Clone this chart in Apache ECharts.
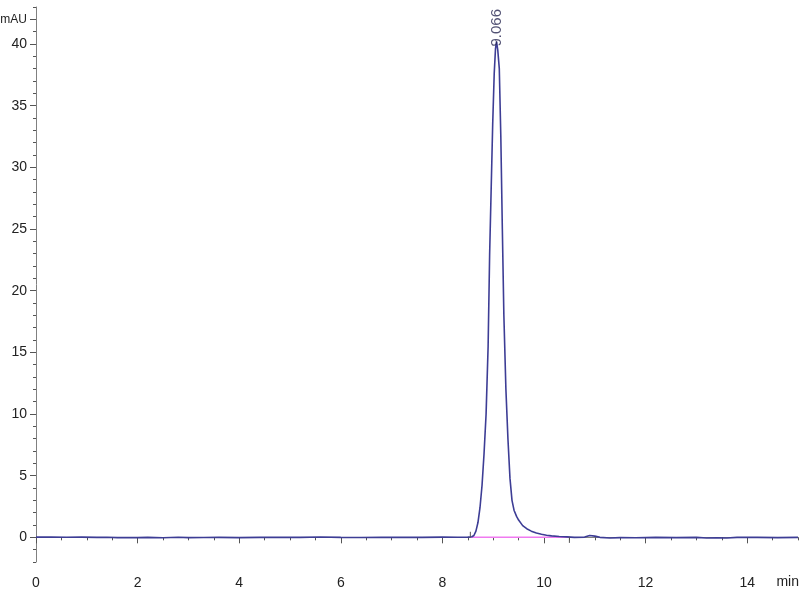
<!DOCTYPE html>
<html>
<head>
<meta charset="utf-8">
<script src="https://cdn.jsdelivr.net/npm/echarts@6/dist/echarts.min.js"></script>
<style>html,body{margin:0;padding:0;background:#fff}#c{width:800px;height:600px}</style>
</head>
<body>
<div id="c"></div>
<script>
// Chromatogram signal (time in min, absorbance in mAU)
var times = [0,0.3,0.6,0.9,1.2,1.4,1.6,1.8,2.0,2.2,2.5,2.8,3.0,3.3,3.6,4.0,4.4,4.8,5.2,5.6,6.0,6.4,6.8,7.2,7.6,8.0,8.3,8.50,8.58,8.62,8.66,8.70,8.74,8.78,8.82,8.86,8.90,8.93,8.95,8.99,9.02,9.045,9.066,9.09,9.12,9.15,9.18,9.21,9.25,9.29,9.33,9.37,9.41,9.46,9.50,9.58,9.66,9.75,9.85,9.95,10.05,10.15,10.30,10.45,10.6,10.8,10.9,11.0,11.1,11.3,11.5,11.8,12.2,12.6,13.0,13.2,13.4,13.6,13.8,14.2,14.6,15.0];
var values = [0.02,0.03,0.01,0.02,0.0,0.01,-0.02,-0.01,-0.02,0.0,-0.03,0.01,-0.02,-0.01,0.0,-0.02,0.0,0.01,0.0,0.03,0.0,-0.01,0.0,0.01,0.0,0.02,0.01,0.02,0.05,0.15,0.5,1.2,2.4,4.2,6.8,10.0,15.5,23.0,26.5,33.5,37.6,39.6,40.2,39.5,38.0,32.5,25.0,18.0,12.0,8.0,4.8,3.0,2.2,1.7,1.4,0.95,0.7,0.5,0.35,0.25,0.17,0.12,0.07,0.04,0.0,0.02,0.15,0.1,0.0,-0.05,-0.02,-0.03,0.0,-0.02,0.0,-0.06,-0.04,-0.05,0.0,0.0,-0.02,0.0];
// integration baseline and its delimiters
var baseStart = 8.55, baseEnd = 10.5;
var peakTime = 9.066, peakHeight = 40.2, peakLabel = '9.066';
var xMajor = [0,2,4,6,8,10,12,14];
var yMajor = [0,5,10,15,20,25,30,35,40,42];

var signal = times.map(function(t,i){return [t, values[i]];});
var chart = echarts.init(document.getElementById('c'));
var font = "'Liberation Sans Narrow','Liberation Sans',Arial,sans-serif";
var axisGray = '#808080';
chart.setOption({
  animation: false,
  grid: {left: 36, right: 2, top: 7, bottom: 38, outerBoundsMode: 'none', containLabel: false},
  xAxis: [{
    type: 'value', min: 0, max: 15, interval: 0.5,
    axisLine: {lineStyle: {color: axisGray}},
    axisTick: {length: 3, lineStyle: {color: '#555'}},
    axisLabel: {show: false},
    splitLine: {show: false}
  },{
    type: 'value', min: 0, max: 15, position: 'bottom',
    axisLine: {show: false},
    axisTick: {length: 6, customValues: xMajor, lineStyle: {color: '#555'}},
    axisLabel: {customValues: xMajor, margin: 14, color: '#222', fontSize: 14, fontFamily: font},
    splitLine: {show: false}
  }],
  yAxis: [{
    type: 'value', min: -2, max: 43, interval: 1,
    axisLine: {show: true, lineStyle: {color: axisGray}},
    axisTick: {show: true, length: 3, lineStyle: {color: '#555'}},
    axisLabel: {show: false},
    splitLine: {show: false}
  },{
    type: 'value', min: -2, max: 43, position: 'left',
    axisLine: {show: false},
    axisTick: {show: true, length: 6, customValues: yMajor, lineStyle: {color: '#555'}},
    axisLabel: {customValues: yMajor, margin: 9, color: '#222', fontSize: 14, fontFamily: font,
      formatter: function(v){ return v === 42 ? '{u|mAU}' : String(v); },
      rich: {u: {fontSize: 12, color: '#222', fontFamily: font}}},
    splitLine: {show: false}
  }],
  graphic: [{
    type: 'text', right: 1, top: 575,
    style: {text: 'min', fill: '#222', fontSize: 14, fontFamily: font}
  }],
  series: [{
    type: 'line', data: [[baseStart,0],[baseEnd,0]], symbol: 'none',
    lineStyle: {color: '#f07af0', width: 1.5}, z: 2
  },{
    type: 'line', data: signal, symbol: 'none',
    lineStyle: {color: '#3d3d95', width: 1.6}, z: 3
  },{
    type: 'line', data: [[baseStart,0],[baseStart,0.45]], symbol: 'none',
    lineStyle: {color: '#555', width: 1}, z: 4
  },{
    type: 'line', data: [[baseEnd,0],[baseEnd,-0.45]], symbol: 'none',
    lineStyle: {color: '#555', width: 1}, z: 4
  },{
    type: 'scatter', data: [[peakTime, peakHeight]], symbolSize: 0,
    label: {show: true, position: 'top', distance: -5, rotate: 90, align: 'left', verticalAlign: 'middle',
      formatter: peakLabel, color: '#262650', fontSize: 15, fontFamily: font}, z: 5
  }]
});
</script>
</body>
</html>
